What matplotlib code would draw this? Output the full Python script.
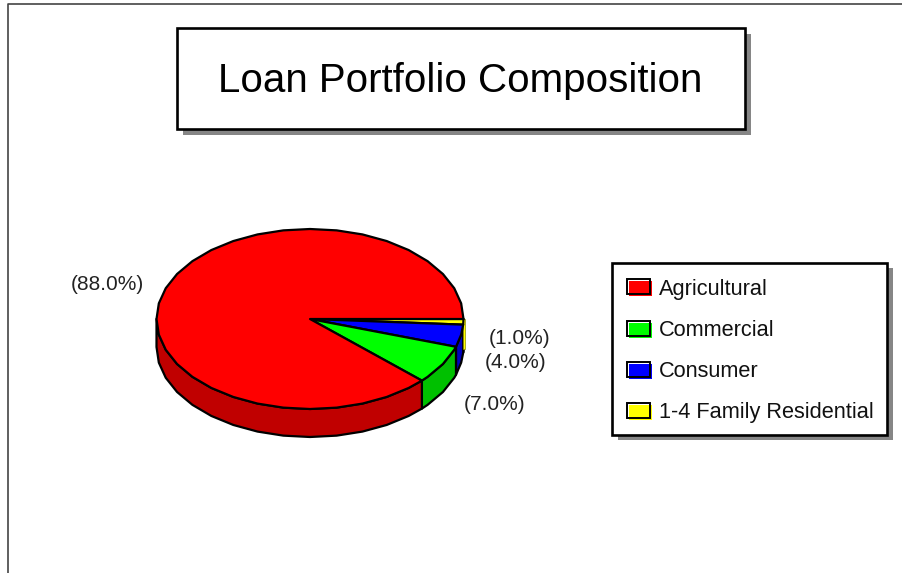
import matplotlib
matplotlib.use('Agg')
import matplotlib.pyplot as plt
from matplotlib.patches import Polygon, Rectangle
import numpy as np

plt.rcParams['font.family'] = ['Liberation Sans', 'DejaVu Sans']

title = 'Loan Portfolio Composition'
categories = ['1-4 Family Residential', 'Consumer', 'Commercial', 'Agricultural']
shares = [1.0, 4.0, 7.0, 88.0]
top_colors = ['#ffff00', '#0000ff', '#00ff00', '#ff0000']
side_colors = ['#c8c800', '#0000c0', '#00c000', '#c00000']

# pixel positions of the percent labels, same order as categories
label_x = [520, 516, 495, 107]
label_y = [339, 362, 405, 285]

cx, cy, rx, ry, depth = 310, 319, 153.5, 90, 28


def arc(a0, a1):
    # faceted like the original, angles clockwise on screen from 3 o'clock
    inner = np.arange(np.ceil(a0 / 10.0) * 10.0, a1, 10.0)
    ang = np.radians(np.concatenate([[a0], inner, [a1]]))
    return cx + rx * np.cos(ang), cy + ry * np.sin(ang)


def box(ax, x0, y0, x1, y1, shadow):
    ax.add_patch(Rectangle((x0 + shadow, y0 + shadow), x1 - x0, y1 - y0, fc='#868686', ec='none', zorder=1))
    ax.add_patch(Rectangle((x0, y0), x1 - x0, y1 - y0, fc='white', ec='black', lw=1.9, zorder=2))


fig = plt.figure(figsize=(9.03, 5.73), dpi=100)
ax = fig.add_axes([0, 0, 1, 1])
ax.set_xlim(0, 903)
ax.set_ylim(573, 0)
ax.axis('off')

# page frame
ax.plot([8.5, 8.5, 903], [573, 3.5, 3.5], color='#444444', lw=1.2)

box(ax, 177.5, 27.5, 745, 129, 6)
ax.text(460, 80.5, title, fontsize=29, ha='center', va='center', zorder=3)

# pie sides first, then the top
start = 0.0
wedges = []
for s in shares:
    wedges.append((start, start + s * 3.6))
    start += s * 3.6

for (a0, a1), col in zip(wedges, side_colors):
    if a0 >= 180:
        continue
    x, y = arc(a0, min(a1, 180))
    pts = np.column_stack([np.r_[x, x[::-1]], np.r_[y, y[::-1] + depth]])
    ax.add_patch(Polygon(pts, fc=col, ec='black', lw=1.6, joinstyle='round', zorder=3))

# the 1% slice side only shows as a sliver past the rim
ax.add_patch(Rectangle((cx + rx, cy), 1.8, depth + 2, fc=top_colors[0], ec='#8a8a00', lw=0.5, zorder=3.5))

for (a0, a1), col in zip(wedges, top_colors):
    x, y = arc(a0, a1)
    pts = np.column_stack([np.r_[cx, x], np.r_[cy, y]])
    ax.add_patch(Polygon(pts, fc=col, ec='black', lw=1.6, joinstyle='round', zorder=4))

for s, lx, ly in zip(shares, label_x, label_y):
    ax.text(lx, ly, '(%.1f%%)' % s, fontsize=15, color='#222222', ha='center', va='center', zorder=5)

# legend
box(ax, 612.5, 262.5, 887.5, 434.5, 5.5)
legend_names = categories[::-1]
legend_cols = top_colors[::-1]
row_y = [288, 330, 370.5, 412]
text_y = [290, 331, 371.5, 412.5]
for name, col, y, ty in zip(legend_names, legend_cols, row_y, text_y):
    ax.add_patch(Rectangle((629, y - 7), 23, 15, fc=col, ec='none', zorder=3))
    ax.add_patch(Rectangle((627, y - 9), 23.5, 15, fc='none', ec='black', lw=1.4, zorder=4))
    ax.text(659, ty, name, fontsize=15.7, color='#111111', ha='left', va='center', zorder=5)

fig.savefig('out.png', dpi=100)
